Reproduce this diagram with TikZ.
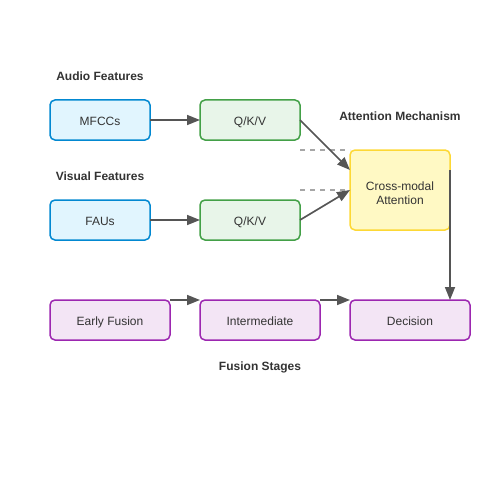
\documentclass[tikz,border=0pt]{standalone}
\usepackage{fontspec}
\setmainfont{Liberation Sans}
\usetikzlibrary{arrows.meta}
\definecolor{txt}{HTML}{333333}
\definecolor{arr}{HTML}{555555}
\definecolor{bfill}{HTML}{E1F5FE}\definecolor{bdraw}{HTML}{0288D1}
\definecolor{gfill}{HTML}{E8F5E9}\definecolor{gdraw}{HTML}{43A047}
\definecolor{yfill}{HTML}{FFF9C4}\definecolor{ydraw}{HTML}{FDD835}
\definecolor{pfill}{HTML}{F3E5F5}\definecolor{pdraw}{HTML}{9C27B0}
\tikzset{
  box/.style={draw, line width=1.5pt, rounded corners=5pt, minimum height=40pt, minimum width=100pt, inner sep=0pt, outer sep=0pt, align=center, text=txt, font=\fontsize{12}{14}\selectfont, text height=10.6pt, text depth=0pt},
  bluebox/.style={box, fill=bfill, draw=bdraw},
  greenbox/.style={box, fill=gfill, draw=gdraw},
  yellowbox/.style={box, fill=yfill, draw=ydraw, minimum height=80pt},
  purplebox/.style={box, fill=pfill, draw=pdraw, minimum width=120pt},
  boxtext/.style={text=txt, font=\fontsize{12}{14.3}\selectfont, align=center, inner sep=0pt},
  title/.style={text=txt, font=\bfseries\fontsize{12}{14}\selectfont, inner sep=0pt, text height=10.6pt, text depth=0pt},
  conn/.style={draw=arr, line width=1.7pt, -{Triangle[length=13pt,width=10pt]}},
  dash line/.style={draw=gray!70, line width=1.5pt, dash pattern=on 5pt off 5pt}
}
\begin{document}
\begin{tikzpicture}[x=1pt,y=-1pt]
\useasboundingbox (0,0) rectangle (500,500);
\node[title] (ta) at (100,75) {Audio Features};
\node[title] (tv) at (100,175) {Visual Features};
\node[title] (tm) at (400,115) {Attention Mechanism};
\node[title] (tf) at (260,365) {Fusion Stages};
\node[bluebox] (mfcc) at (100,120) {MFCCs};
\node[greenbox] (qkv1) at (250,120) {Q/K/V};
\node[bluebox] (fau) at (100,220) {FAUs};
\node[greenbox] (qkv2) at (250,220) {Q/K/V};
\node[yellowbox] (cma) at (400,190) {};
\node[boxtext] (cmatext) at (400,193.3) {Cross-modal\\Attention};
\node[purplebox] (early) at (110,320) {Early Fusion};
\node[purplebox] (inter) at (260,320) {Intermediate};
\node[purplebox] (dec) at (410,320) {Decision};
\coordinate (d1a) at (300,150); \coordinate (d1b) at (350,150);
\coordinate (d2a) at (300,190); \coordinate (d2b) at (350,190);
\coordinate (cmain) at (350,170);
\coordinate (cmaout) at (450,170);
\coordinate (decin) at (450,300);
\draw[dash line] (d1a) -- (d1b);
\draw[dash line] (d2a) -- (d2b);
\draw[conn] (mfcc) -- (qkv1);
\draw[conn] (fau) -- (qkv2);
\draw[conn] (qkv1.east) -- (cmain);
\draw[conn] (qkv2.east) -- (cma.west);
\draw[conn] (cmaout) -- (decin);
\draw[conn] (early.north east) -- (inter.north west);
\draw[conn] (inter.north east) -- (dec.north west);
\end{tikzpicture}
\end{document}
